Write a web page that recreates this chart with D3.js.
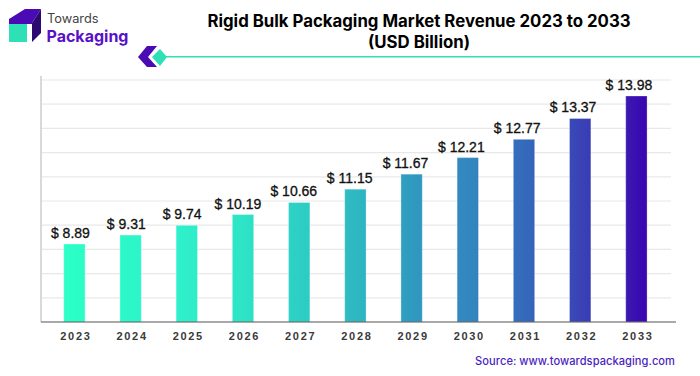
<!DOCTYPE html>
<html lang="en">
  <head>
    <meta charset="utf-8">
    <title>Rigid Bulk Packaging Market Revenue</title>
    <script src="https://cdn.jsdelivr.net/npm/d3@7"></script>
    <style>
      html, body { margin: 0; padding: 0; background: #fff; }
      svg { display: block; }
    </style>
  </head>
  <body>
    <script>

    var years = ["2023", "2024", "2025", "2026", "2027", "2028", "2029", "2030", "2031", "2032", "2033"];
    var revenue = [8.89, 9.31, 9.74, 10.19, 10.66, 11.15, 11.67, 12.21, 12.77, 13.37, 13.98];
    var gridLevels = [1, 2, 3, 4, 5, 6, 7, 8, 9, 10];
    var titleLines = ["Rigid Bulk Packaging Market Revenue 2023 to 2033", "(USD Billion)"];
    var sourceText = "Source: www.towardspackaging.com";

    var w = 700;
    var h = 376;
    var baseY = 322;

    var svg = d3.select("body").append("svg")
                .attr("width", w)
                .attr("height", h);

    // bars in the picture grow faster than the labels, a power scale fits them
    var xScale = d3.scaleBand()
                   .domain(years)
                   .range([46.3, 664.5])
                   .paddingInner(0.62)
                   .paddingOuter(0.31);

    var yScale = d3.scalePow()
                   .exponent(2.35)
                   .domain([0, 13.98])
                   .range([baseY, 96]);

    var gridScale = d3.scaleLinear()
                      .domain([0, 10])
                      .range([baseY, 80]);

    var grad = svg.append("defs").append("linearGradient")
                  .attr("id", "barFill")
                  .attr("gradientUnits", "userSpaceOnUse")
                  .attr("x1", 64).attr("x2", 647)
                  .attr("y1", 0).attr("y2", 0);
    grad.selectAll("stop")
        .data([[0, "#2bffc6"], [0.2, "#2ef0ca"], [0.3, "#2ee5c6"], [0.4, "#2dd0c4"], [0.5, "#2fb8c2"],
               [0.6, "#3099c0"], [0.7, "#3385bf"], [0.8, "#3566bb"], [0.9, "#3a3db5"], [1, "#3a05b0"]])
        .enter().append("stop")
        .attr("offset", function(d) { return d[0]; })
        .attr("stop-color", function(d) { return d[1]; });

    // grid
    svg.append("g").selectAll("line")
       .data(gridLevels)
       .enter().append("line")
       .attr("x1", 42).attr("x2", 671)
       .attr("y1", function(d) { return gridScale(d); })
       .attr("y2", function(d) { return gridScale(d); })
       .attr("stroke", "#e8e8e8")
       .attr("stroke-width", 1.2);

    // left rail and baseline
    svg.append("line")
       .attr("x1", 41).attr("x2", 41)
       .attr("y1", 76).attr("y2", baseY)
       .attr("stroke", "#d9d9d9").attr("stroke-width", 2);

    svg.selectAll("rect.bar")
       .data(revenue)
       .enter().append("rect")
       .attr("class", "bar")
       .attr("x", function(d, i) { return xScale(years[i]); })
       .attr("y", function(d) { return yScale(d); })
       .attr("width", xScale.bandwidth())
       .attr("height", function(d) { return baseY - yScale(d); })
       .attr("fill", "url(#barFill)")
       .attr("stroke", "#fff")
       .attr("stroke-opacity", 0.3)
       .attr("stroke-width", 1);

    svg.append("line")
       .attr("x1", 41).attr("x2", 676)
       .attr("y1", baseY).attr("y2", baseY)
       .attr("stroke", "#555").attr("stroke-width", 1.2);

    // labels sit left of the bars, a little more so towards the right
    svg.selectAll("text.value")
       .data(revenue)
       .enter().append("text")
       .attr("class", "value")
       .attr("x", function(d, i) { return xScale(years[i]) + xScale.bandwidth() / 2 - 4 - i * 0.35; })
       .attr("y", function(d) { return yScale(d) - 6; })
       .attr("text-anchor", "middle")
       .attr("font-family", "Liberation Sans")
       .attr("font-size", 14)
       .attr("font-weight", 400)
       .attr("stroke", "#111")
       .attr("stroke-width", 0.3)
       .attr("fill", "#111")
       .text(function(d) { return "$ " + d.toFixed(2); });

    svg.selectAll("text.year")
       .data(years)
       .enter().append("text")
       .attr("class", "year")
       .attr("x", function(d) { return xScale(d) + xScale.bandwidth() / 2 + 1.5; })
       .attr("y", 340)
       .attr("text-anchor", "middle")
       .attr("font-family", "Liberation Sans")
       .attr("font-size", 11)
       .attr("font-weight", 700)
       .attr("letter-spacing", 1.7)
       .attr("fill", "#3a3a3a")
       .text(function(d) { return d; });

    svg.selectAll("text.title")
       .data(titleLines)
       .enter().append("text")
       .attr("class", "title")
       .attr("x", 419)
       .attr("y", function(d, i) { return 27 + i * 21; })
       .attr("text-anchor", "middle")
       .attr("font-family", "Inter")
       .attr("font-size", 16.8)
       .attr("font-weight", 700)
       .attr("fill", "#000")
       .text(function(d) { return d; });

    svg.append("text")
       .attr("x", 675).attr("y", 365)
       .attr("text-anchor", "end")
       .attr("font-family", "Inter")
       .attr("font-size", 11.1)
       .attr("font-weight", 500)
       .attr("letter-spacing", 0.05)
       .attr("fill", "#4a1fc0")
       .text(sourceText);

    // logo
    var logo = svg.append("g");
    logo.append("path").attr("d", "M9 19L25 9H41L32 23V24H9Z").attr("fill", "#4a0bb5");
    logo.append("path").attr("d", "M32 23L41 9V33L32 42Z").attr("fill", "#2c0a70");
    logo.append("rect").attr("x", 9).attr("y", 24).attr("width", 18).attr("height", 18).attr("fill", "#2ee0b6");
    logo.append("text").attr("x", 47).attr("y", 23)
        .attr("font-family", "Inter").attr("font-size", 12.8).attr("fill", "#444")
        .text("Towards");
    logo.append("text").attr("x", 46.5).attr("y", 42)
        .attr("font-family", "Inter").attr("font-size", 16).attr("font-weight", 700).attr("fill", "#5a10c8")
        .text("Packaging");

    // divider
    svg.append("path").attr("d", "M147 46H157L148 57L157 67H147L138 57Z").attr("fill", "#4a0bb5");
    svg.append("path").attr("d", "M160 49L167 57L160 66L152 57Z").attr("fill", "#2ee0b6");
    svg.append("line").attr("x1", 165).attr("x2", 700)
       .attr("y1", 56.8).attr("y2", 56.8)
       .attr("stroke", "#2ee0b6").attr("stroke-width", 1.6);

    </script>
  </body>
</html>
